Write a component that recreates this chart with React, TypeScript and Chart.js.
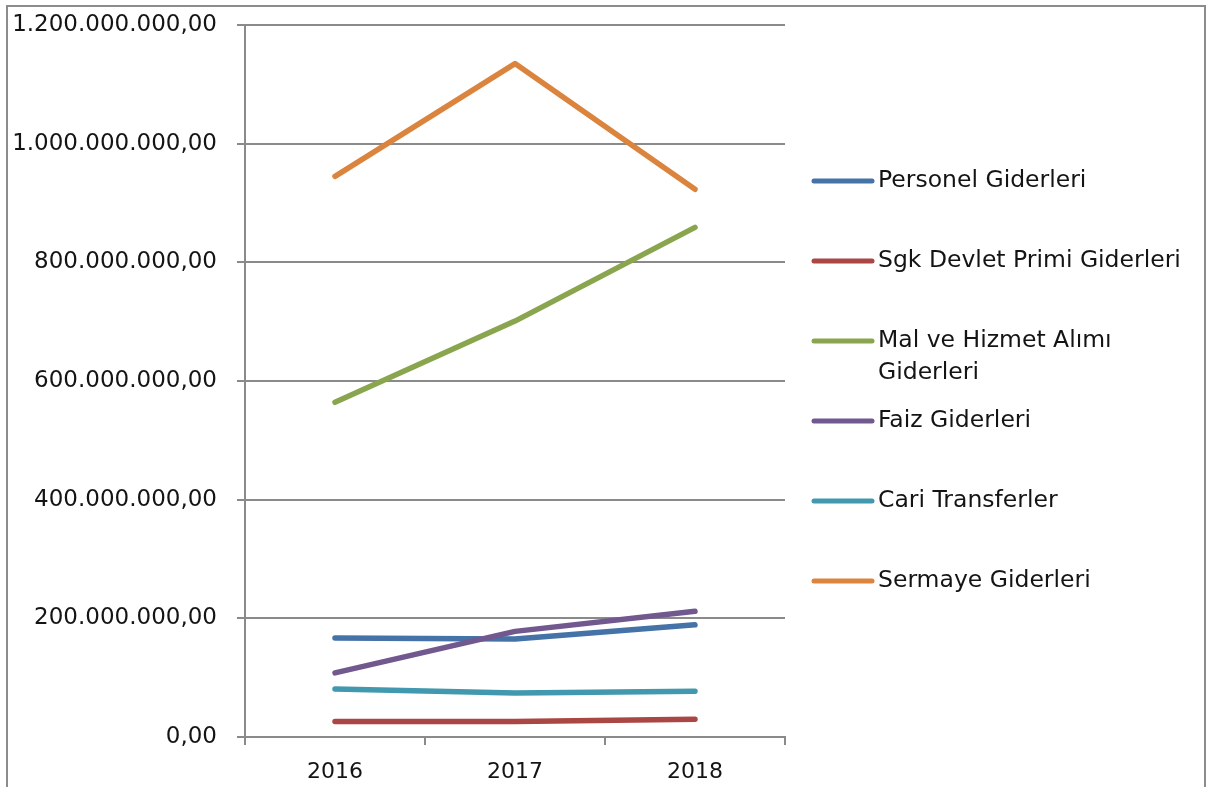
import React, { useEffect, useRef } from "react";
import { Chart, registerables } from "chart.js";

Chart.register(...registerables);

const YEARS = ["2016", "2017", "2018"];
const SERIES_NAMES = [
  "Personel Giderleri",
  "Sgk Devlet Primi Giderleri",
  "Mal ve Hizmet Alımı Giderleri",
  "Faiz Giderleri",
  "Cari Transferler",
  "Sermaye Giderleri",
];
const PERSONEL = [167e6, 165e6, 189e6];
const SGK = [26e6, 26e6, 30e6];
const MAL_HIZMET = [564e6, 701e6, 859e6];
const FAIZ = [108e6, 178e6, 212e6];
const CARI = [81e6, 74e6, 77e6];
const SERMAYE = [945e6, 1135e6, 923e6];
const SERIES_VALUES = [PERSONEL, SGK, MAL_HIZMET, FAIZ, CARI, SERMAYE];
const COLORS = ["#4572A7", "#AA4643", "#89A54E", "#71588F", "#4198AF", "#DB843D"];
const LEGEND_LINES = [
  ["Personel Giderleri"],
  ["Sgk Devlet Primi Giderleri"],
  ["Mal ve Hizmet Alımı", "Giderleri"],
  ["Faiz Giderleri"],
  ["Cari Transferler"],
  ["Sermaye Giderleri"],
];
const Y_MIN = 0;
const Y_MAX = 1200000000;
const Y_STEP = 200000000;

const FONT = "'DejaVu Sans', sans-serif";
const TEXT_COLOR = "#141414";
const GRID_COLOR = "#8a8a8a";

function formatTr(v: number): string {
  const intPart = Math.round(v).toString().replace(/\B(?=(\d{3})+(?!\d))/g, ".");
  return intPart + ",00";
}

const frameAndLegend = {
  id: "frameAndLegend",
  beforeDraw(chart: any) {
    const ctx = chart.ctx;
    ctx.save();
    ctx.fillStyle = "#ffffff";
    ctx.fillRect(0, 0, chart.width, chart.height);
    ctx.strokeStyle = "#8c8c8c";
    ctx.lineWidth = 2;
    ctx.strokeRect(7, 6, 1198, 820);
    ctx.restore();
  },
  afterDraw(chart: any) {
    const ctx = chart.ctx;
    ctx.save();
    const startY = 181;
    const gap = 80;
    const lineX0 = 814;
    const lineX1 = 872;
    const textX = 878;
    ctx.font = "23.5px " + FONT;
    ctx.textBaseline = "middle";
    ctx.textAlign = "left";
    chart.data.datasets.forEach((ds: any, i: number) => {
      const y = startY + i * gap;
      ctx.strokeStyle = ds.borderColor;
      ctx.lineWidth = 5;
      ctx.lineCap = "round";
      ctx.beginPath();
      ctx.moveTo(lineX0, y);
      ctx.lineTo(lineX1, y);
      ctx.stroke();
      ctx.fillStyle = TEXT_COLOR;
      LEGEND_LINES[i].forEach((t, j) => {
        ctx.fillText(t, textX, y + j * 32);
      });
    });
    ctx.restore();
  },
};

export default function App() {
  const ref = useRef<HTMLCanvasElement | null>(null);

  useEffect(() => {
    document.body.style.margin = "0";
    const canvas = ref.current;
    if (!canvas) return;
    const chart = new Chart(canvas, {
      type: "line",
      data: {
        labels: YEARS,
        datasets: SERIES_NAMES.map((name, i) => ({
          label: name,
          data: SERIES_VALUES[i],
          borderColor: COLORS[i],
          backgroundColor: COLORS[i],
          borderWidth: 5.5,
          borderCapStyle: "round",
          borderJoinStyle: "round",
          pointRadius: 0,
          pointHoverRadius: 0,
          tension: 0,
          fill: false,
          order: SERIES_NAMES.length - i,
        })),
      },
      options: {
        animation: false,
        responsive: false,
        maintainAspectRatio: false,
        layout: { padding: { left: 0, right: 424, top: 25, bottom: 0 } },
        plugins: {
          legend: { display: false },
          tooltip: { enabled: false },
          title: { display: false },
        },
        scales: {
          x: {
            type: "category",
            offset: true,
            afterFit: (s: any) => {
              s.height = 50;
              s.paddingLeft = 0;
              s.paddingRight = 0;
            },
            grid: {
              offset: true,
              drawOnChartArea: false,
              drawTicks: true,
              tickLength: 8,
              color: GRID_COLOR,
              lineWidth: 2,
            },
            border: { display: true, color: GRID_COLOR, width: 2 },
            ticks: {
              color: TEXT_COLOR,
              font: { family: FONT, size: 22 },
              padding: 14,
              maxRotation: 0,
            },
          },
          y: {
            min: Y_MIN,
            max: Y_MAX,
            afterFit: (s: any) => {
              s.width = 245;
              s.paddingTop = 0;
              s.paddingBottom = 0;
            },
            grid: {
              color: GRID_COLOR,
              lineWidth: 2,
              drawTicks: true,
              tickLength: 8,
            },
            border: { display: true, color: GRID_COLOR, width: 2 },
            ticks: {
              stepSize: Y_STEP,
              color: TEXT_COLOR,
              font: { family: FONT, size: 23 },
              padding: 20,
              callback: (v: any) => formatTr(Number(v)),
            },
          },
        },
      },
      plugins: [frameAndLegend],
    } as any);
    return () => chart.destroy();
  }, []);

  return (
    <div style={{ width: 1209, height: 787, overflow: "hidden" }}>
      <canvas ref={ref} width={1209} height={787} style={{ display: "block", width: 1209, height: 787 }} />
    </div>
  );
}
